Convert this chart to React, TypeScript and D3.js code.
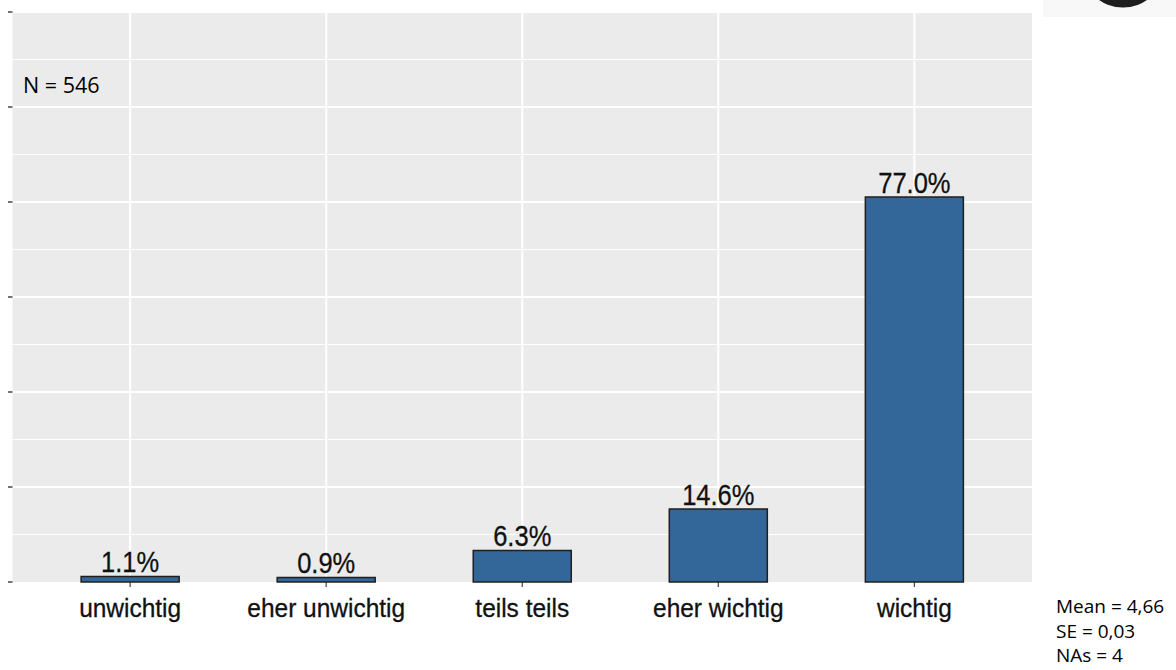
import React, { useEffect, useRef } from 'react';
import * as d3 from 'd3';

// Data
const categories = ['unwichtig', 'eher unwichtig', 'teils teils', 'eher wichtig', 'wichtig'];
const percents = [1.1, 0.9, 6.3, 14.6, 77.0];
const yTicks = [0, 19, 38, 57, 76, 95, 114];
const noteN = 'N = 546';
const statLines = ['Mean = 4,66', 'SE = 0,03', 'NAs = 4'];

const W = 1176;
const H = 670;

const App: React.FC = () => {
  const svgRef = useRef<SVGSVGElement>(null);

  useEffect(() => {
    document.body.style.margin = '0';
    if (!svgRef.current) return;
    const svg = d3.select(svgRef.current);
    svg.selectAll('*').remove();

    const left = 12.5, right = 1032, top = 12, bottom = 582;

    // ggplot style discrete axis: 0.6 expansion each side, bars 0.5 of a step
    const x = d3.scalePoint<string>()
      .domain(categories)
      .range([left, right])
      .padding(0.6);
    const barW = x.step() * 0.5;

    const y = d3.scaleLinear().domain([0, 114]).range([bottom, top]);

    // panel
    svg.append('rect')
      .attr('x', left).attr('y', top)
      .attr('width', right - left).attr('height', bottom - top)
      .attr('fill', '#EBEBEB');

    // minor grid
    const minor = yTicks.slice(0, -1).map((t, i) => (t + yTicks[i + 1]) / 2);
    svg.append('g').selectAll('line').data(minor).join('line')
      .attr('x1', left).attr('x2', right)
      .attr('y1', d => y(d)).attr('y2', d => y(d))
      .attr('stroke', '#fff').attr('stroke-width', 1);

    // major grid
    svg.append('g').selectAll('line').data(yTicks.slice(1)).join('line')
      .attr('x1', left).attr('x2', right)
      .attr('y1', d => y(d)).attr('y2', d => y(d))
      .attr('stroke', '#fff').attr('stroke-width', 2);

    svg.append('g').selectAll('line').data(categories).join('line')
      .attr('x1', d => x(d)!).attr('x2', d => x(d)!)
      .attr('y1', top).attr('y2', bottom)
      .attr('stroke', '#fff').attr('stroke-width', 2);

    // y ticks
    svg.append('g').selectAll('line').data(yTicks).join('line')
      .attr('x1', left - 4.5).attr('x2', left)
      .attr('y1', d => y(d)).attr('y2', d => y(d))
      .attr('stroke', '#444').attr('stroke-width', 1.5);

    // x ticks
    svg.append('g').selectAll('line').data(categories).join('line')
      .attr('x1', d => x(d)!).attr('x2', d => x(d)!)
      .attr('y1', bottom).attr('y2', bottom + 5)
      .attr('stroke', '#444').attr('stroke-width', 1.2);

    // bars
    svg.append('g').selectAll('rect').data(percents).join('rect')
      .attr('x', (_, i) => x(categories[i])! - barW / 2)
      .attr('width', barW)
      .attr('y', d => y(d))
      .attr('height', d => bottom - y(d))
      .attr('fill', '#336699')
      .attr('stroke', '#1f1f1f')
      .attr('stroke-width', 1.5);

    // value labels (condensed Arial look)
    svg.append('g').selectAll('text').data(percents).join('text')
      .attr('transform', (d, i) => `translate(${x(categories[i])},${y(d) - 4.5}) scale(0.85,1)`)
      .attr('text-anchor', 'middle')
      .style('font-family', '"Liberation Sans", Arial, sans-serif')
      .style('font-size', '30px')
      .attr('fill', '#111')
      .attr('stroke', '#111').attr('stroke-width', 0.3)
      .text(d => `${d.toFixed(1)}%`);

    // category labels
    svg.append('g').selectAll('text').data(categories).join('text')
      .attr('transform', d => `translate(${x(d)},${616.5}) scale(0.96,1)`)
      .attr('text-anchor', 'middle')
      .style('font-family', '"Liberation Sans", Arial, sans-serif')
      .style('font-size', '25.5px')
      .attr('fill', '#111')
      .attr('stroke', '#111').attr('stroke-width', 0.3)
      .text(d => d);

    // N note
    svg.append('text')
      .attr('x', 23).attr('y', 93)
      .style('font-family', '"Open Sans", sans-serif')
      .style('font-size', '21.5px')
      .attr('fill', '#000')
      .text(noteN);

    // stats block
    svg.append('g').selectAll('text').data(statLines).join('text')
      .attr('x', 1056).attr('y', (_, i) => 613 + i * 24.5)
      .style('font-family', '"Open Sans", sans-serif')
      .style('font-size', '19px')
      .attr('fill', '#000')
      .text(d => d);

    // cropped logo at top right
    svg.append('rect')
      .attr('x', 1043).attr('y', 0).attr('width', W - 1043).attr('height', 17)
      .attr('fill', '#f8f8f8');
    svg.append('ellipse')
      .attr('cx', 1123).attr('cy', -30).attr('rx', 40).attr('ry', 37.5)
      .attr('fill', '#1e1e1e');
  }, []);

  return (
    <svg ref={svgRef} width={W} height={H} style={{ display: 'block', background: '#fff' }} />
  );
};

export default App;
